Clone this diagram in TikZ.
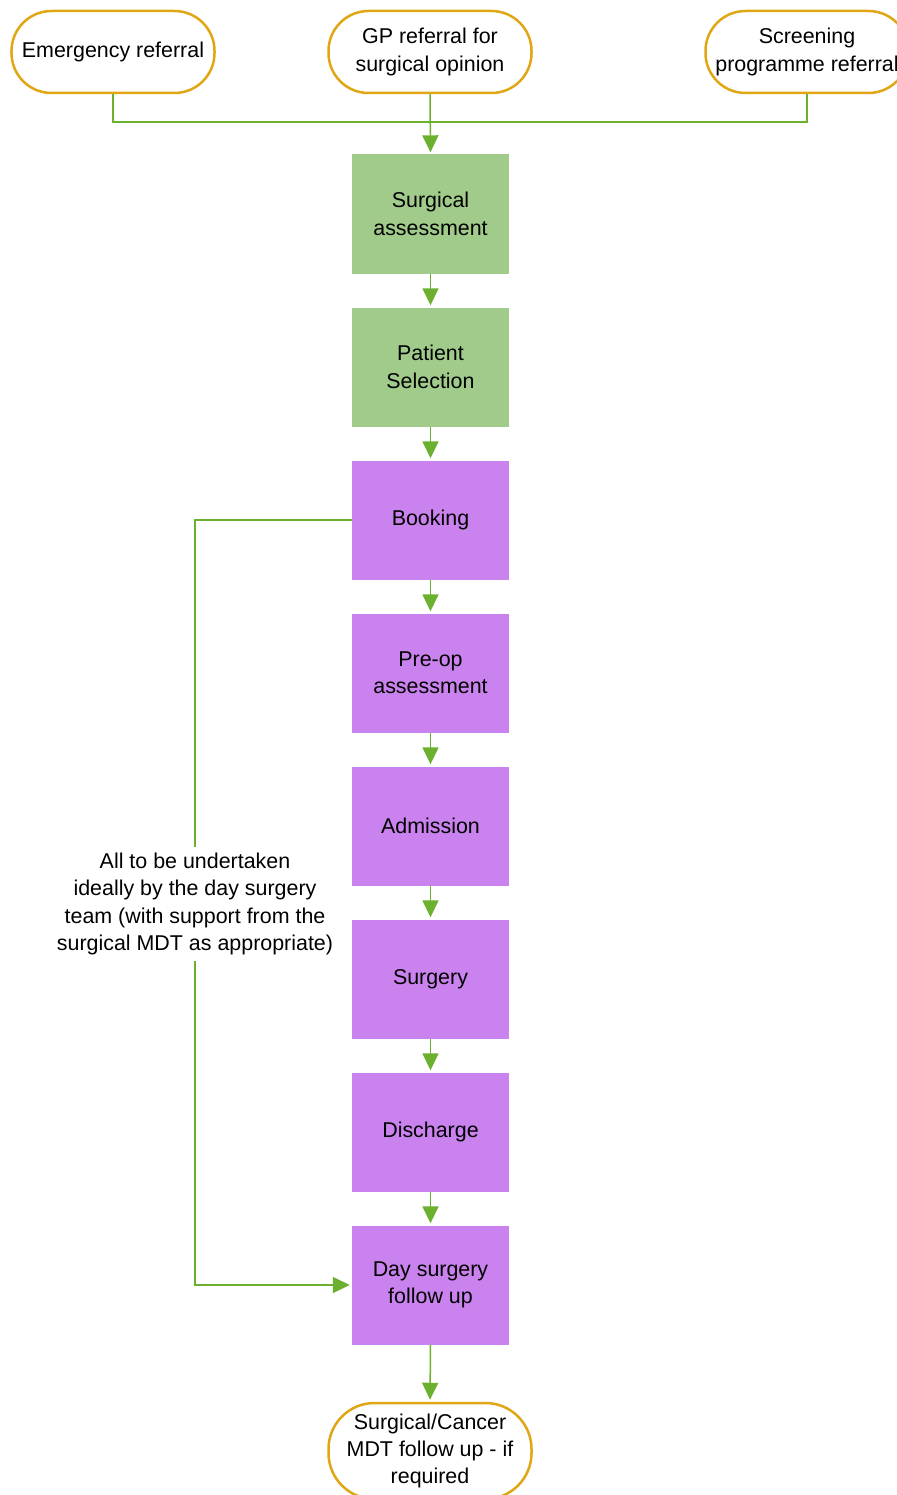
\documentclass[tikz,border=0pt]{standalone}
\usepackage{fontspec}
\setmainfont{Liberation Sans}
\usetikzlibrary{arrows.meta}
\definecolor{gold}{RGB}{224,166,20}
\definecolor{boxgreen}{RGB}{160,203,138}
\definecolor{boxpurple}{RGB}{202,130,238}
\definecolor{linegreen}{RGB}{107,176,46}
\tikzset{
  txt/.style={font=\fontsize{21.5}{27.5}\selectfont},
  term/.style={txt, draw=gold, line width=2.5bp, fill=white, rounded corners=40bp,
    minimum width=203bp, minimum height=82bp, align=center, inner sep=2bp},
  gbox/.style={txt, fill=boxgreen, minimum width=157bp, minimum height=119bp, align=center},
  pbox/.style={txt, fill=boxpurple, minimum width=157bp, minimum height=119bp, align=center},
  conn/.style={draw=linegreen, line width=1.5bp},
  arr/.style={conn, -{Triangle[length=17bp,width=16bp]}, shorten >=2bp},
}
\begin{document}
\begin{tikzpicture}[x=1bp,y=-1bp]
\useasboundingbox (0,0) rectangle (896,1495);
\node[term] (em) at (113,52) {Emergency referral};
\node[term] (gp) at (430,52) {GP referral for\\surgical opinion};
\node[term] (sc) at (807,52) {Screening\\programme referral};
\node[gbox] (sa) at (430.5,214) {Surgical\\assessment};
\node[gbox] (ps) at (430.5,367) {Patient\\Selection};
\node[pbox] (bk) at (430.5,520) {Booking};
\node[pbox] (po) at (430.5,673) {Pre-op\\assessment};
\node[pbox] (ad) at (430.5,826) {Admission};
\node[pbox] (su) at (430.5,979) {Surgery};
\node[pbox] (di) at (430.5,1132) {Discharge};
\node[pbox] (fu) at (430.5,1285) {Day surgery\\follow up};
\node[term, minimum height=96bp, rounded corners=46bp] (mdt) at (430,1451) {Surgical/Cancer\\MDT follow up - if\\required};
\node[txt, align=center, inner sep=6bp] (lbl) at (195,904)
  {All to be undertaken\\ideally by the day surgery\\team (with support from the\\surgical MDT as appropriate)};
\coordinate (j) at (430,122);
\draw[conn] (em.south) |- (j) -| (sc.south);
\draw[arr] (gp.south) -- (sa.north);
\draw[arr] (sa.south) -- (ps.north);
\draw[arr] (ps.south) -- (bk.north);
\draw[arr] (bk.south) -- (po.north);
\draw[arr] (po.south) -- (ad.north);
\draw[arr] (ad.south) -- (su.north);
\draw[arr] (su.south) -- (di.north);
\draw[arr] (di.south) -- (fu.north);
\draw[arr] (fu.south) -- (mdt.north);
\draw[conn] (bk.west) -| (lbl.north);
\draw[arr] (lbl.south) |- (fu.west);
\end{tikzpicture}
\end{document}
